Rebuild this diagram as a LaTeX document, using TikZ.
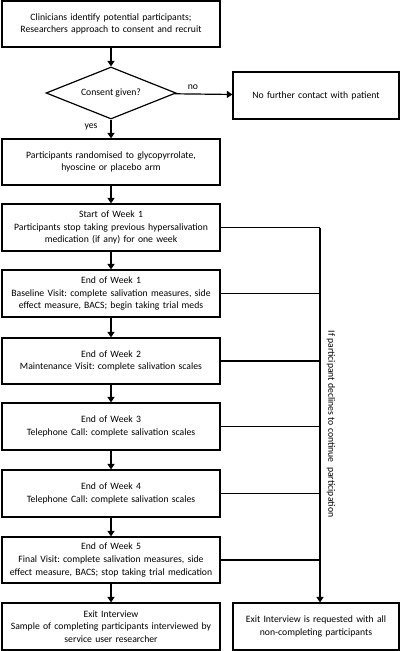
\documentclass[tikz,border=0pt]{standalone}
\usepackage{fontspec}
\setmainfont{Carlito}
\usetikzlibrary{shapes.geometric,arrows.meta}
\begin{document}
\frenchspacing
\begin{tikzpicture}[x=1pt,y=-1pt,
  every node/.style={font=\fontsize{9.7}{12.6}\selectfont},
  box/.style={draw, line width=1.2pt, align=center, inner sep=1pt, minimum height=46pt},
  lbox/.style={box, minimum width=218pt, text width=214pt},
  rbox/.style={box, minimum width=166pt, text width=162pt},
  dec/.style={draw, line width=1.2pt, diamond, aspect=2.5, minimum width=130pt, minimum height=52pt, inner sep=0pt},
  arr/.style={line width=1.2pt, -{Triangle[width=7pt,length=5.5pt]}},
  ln/.style={line width=1.2pt},
  lbl/.style={inner sep=0pt}]
\useasboundingbox (0,0) rectangle (400,651);
\node[lbox] (b1) at (111,24) {Clinicians identify potential participants;\\Researchers approach to consent and recruit};
\node[dec] (d) at (111,93) {Consent given?};
\node[rbox, minimum height=47pt] (nf) at (316,95.5) {No further contact with patient};
\node[lbox] (r) at (111,162) {Participants randomised to glycopyrrolate,\\hyoscine or placebo arm};
\node[lbox, minimum height=47pt] (w1s) at (111,227.5) {Start of Week 1\\Participants stop taking previous hypersalivation\\medication (if any) for one week};
\node[lbox, minimum height=47pt] (w1e) at (111,293.5) {End of Week 1\\Baseline Visit: complete salivation measures, side\\effect measure, BACS; begin taking trial meds};
\node[lbox] (w2) at (111,361) {End of Week 2\\Maintenance Visit: complete salivation scales};
\node[lbox, minimum height=47pt] (w3) at (111,426.5) {End of Week 3\\Telephone Call: complete salivation scales};
\node[lbox, minimum height=47pt] (w4) at (111,493.5) {End of Week 4\\Telephone Call: complete salivation scales};
\node[lbox] (w5) at (111,560) {End of Week 5\\Final Visit: complete salivation measures, side\\effect measure, BACS; stop taking trial medication};
\node[lbox, minimum height=47pt] (el) at (111,626.5) {Exit Interview\\Sample of completing participants interviewed by\\service user researcher};
\node[rbox, minimum height=47pt] (er) at (316,626.5) {Exit Interview is requested with all\\non-completing participants};
\node[lbl] (no) at (193,87) {no};
\node[lbl] (yes) at (91,127) {yes};
\node[lbl, rotate=-90] (side) at (331,424) {If participant declines to continue\ \ participation};
\coordinate (v) at (320,227.5);
\draw[arr] (b1) -- (d);
\draw[arr] (d) -- (nf);
\draw[arr] (d) -- (r);
\draw[arr] (r) -- (w1s);
\draw[arr] (w1s) -- (w1e);
\draw[arr] (w1e) -- (w2);
\draw[arr] (w2) -- (w3);
\draw[arr] (w3) -- (w4);
\draw[arr] (w4) -- (w5);
\draw[arr] (w5) -- (el);
\draw[ln] (w1s.east) -- (v);
\draw[ln] (w1e.east) -- (w1e.east -| v);
\draw[ln] (w2.east) -- (w2.east -| v);
\draw[ln] (w3.east) -- (w3.east -| v);
\draw[ln] (w4.east) -- (w4.east -| v);
\draw[ln] (w5.east) -- (w5.east -| v);
\draw[arr] (v) -- (v |- er.north);
\end{tikzpicture}
\end{document}
